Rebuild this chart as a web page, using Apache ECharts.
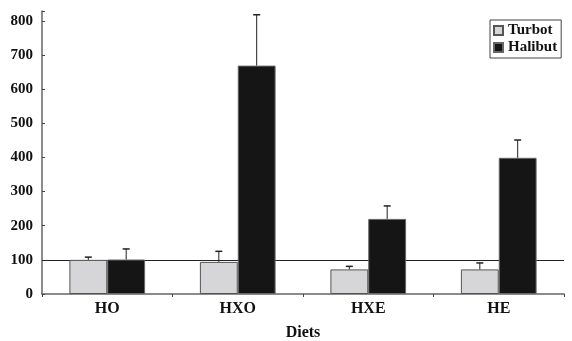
<!DOCTYPE html>
<html><head><meta charset="utf-8">
<script src="https://cdn.jsdelivr.net/npm/echarts@6/dist/echarts.min.js"></script>
<style>html,body{margin:0;padding:0;background:#fff}#c{width:572px;height:341px}</style>
</head><body><div id="c"></div>
<script>
var categories = ['HO', 'HXO', 'HXE', 'HE'];
var turbot = [100, 94, 72, 72];
var turbotErr = [108, 125, 81, 91];
var halibut = [101, 669, 220, 399];
var halibutErr = [132, 818, 258, 451];
var yTicks = [0, 100, 200, 300, 400, 500, 600, 700, 800];

var FONT = '"Liberation Serif", "Times New Roman", serif';
var GAP = 0.42;

function errSeries(name, vals, errs, side) {
  return {
    type: 'custom', name: name + '_err', z: 3,
    data: vals.map(function (v, i) { return [i, v, errs[i]]; }),
    renderItem: function (params, api) {
      var i = api.value(0);
      var band = api.size([1, 0])[0];
      var bw = band * (1 - GAP) / 2;
      var p0 = api.coord([i, api.value(1)]);
      var p1 = api.coord([i, api.value(2)]);
      var x = p0[0] + side * bw / 2;
      var st = { stroke: '#222', lineWidth: 1 };
      return { type: 'group', children: [
        { type: 'line', shape: { x1: x, y1: p0[1], x2: x, y2: p1[1] }, style: st },
        { type: 'line', shape: { x1: x - 3.5, y1: p1[1], x2: x + 3.5, y2: p1[1] }, style: { stroke: '#222', lineWidth: 1.5 } }
      ]};
    },
    silent: true, tooltip: { show: false }
  };
}

var chart = echarts.init(document.getElementById('c'));
chart.setOption({
  animation: false,
  grid: { left: 42, right: 8, top: 11, bottom: 47, containLabel: false, outerBoundsMode: 'none' },
  legend: {
    data: ['Turbot', 'Halibut'], orient: 'vertical', left: 490, top: 20,
    itemWidth: 9, itemHeight: 9, itemGap: 2, icon: 'rect',
    padding: [3, 4, 3, 3], borderColor: '#444', borderWidth: 1,
    textStyle: { fontFamily: FONT, fontWeight: 'bold', fontSize: 15, color: '#111' }
  },
  xAxis: {
    type: 'category', data: categories,
    axisLine: { lineStyle: { color: '#666', width: 1.5 } },
    axisTick: { show: true, alignWithLabel: false, length: 3, lineStyle: { color: '#444' } },
    axisLabel: { fontFamily: FONT, fontWeight: 'bold', fontSize: 16, color: '#111', margin: 7 },
    name: 'Diets', nameLocation: 'middle', nameGap: 31,
    nameTextStyle: { fontFamily: FONT, fontWeight: 'bold', fontSize: 16, color: '#111' }
  },
  yAxis: {
    type: 'value', min: 0, max: 829, interval: 100,
    splitLine: { show: false },
    axisLine: { show: true, lineStyle: { color: '#666', width: 1.5 } },
    axisTick: { show: true, inside: true, length: 3, lineStyle: { color: '#444' } },
    axisLabel: {
      fontFamily: FONT, fontWeight: 'bold', fontSize: 15, color: '#111', margin: 9,
      formatter: function (v) { return yTicks.indexOf(v) >= 0 ? String(v) : ''; }
    }
  },
  series: [
    {
      name: 'Turbot', type: 'bar', data: turbot, barGap: 0, barCategoryGap: (GAP * 100) + '%',
      itemStyle: { color: '#d6d6d8', borderColor: '#555', borderWidth: 1 },
      markLine: {
        silent: true, symbol: 'none', z: 1,
        label: { show: false },
        lineStyle: { color: '#222', type: 'solid', width: 1 },
        data: [{ yAxis: 100 }]
      }
    },
    {
      name: 'Halibut', type: 'bar', data: halibut, barGap: 0, barCategoryGap: (GAP * 100) + '%',
      itemStyle: { color: '#151515', borderColor: '#666', borderWidth: 1 }
    },
    errSeries('Turbot', turbot, turbotErr, -1),
    errSeries('Halibut', halibut, halibutErr, 1)
  ]
});
</script></body></html>
